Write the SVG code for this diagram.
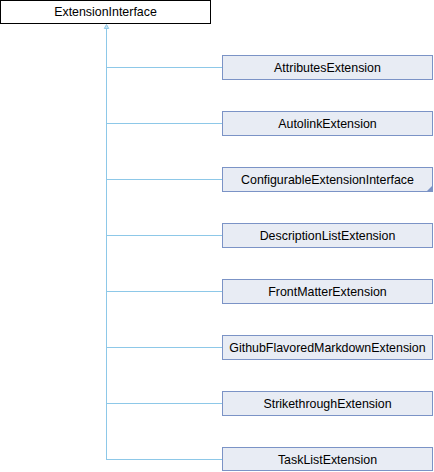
<svg xmlns="http://www.w3.org/2000/svg" width="434" height="472" viewBox="0 0 434 472">
<defs>
<style>
.n rect{fill:#E8ECF4;stroke:#7B93C6;stroke-width:1}
.n rect.top{fill:#FFFFFF;stroke:#000000}
.n text{font-family:"Liberation Sans",Arial,sans-serif;font-size:12.4px;fill:#000;text-anchor:middle}
.e{stroke:#8DC8E8;stroke-width:1;fill:none}
</style>
</defs>
<rect width="434" height="472" fill="#FFFFFF"/>
<g id="connectors">
<path class="e" d="M106.5,28 V460"/>
<path class="e" d="M106.5,67.5 H222 M106.5,123.5 H222 M106.5,179.5 H222 M106.5,235.5 H222 M106.5,291.5 H222 M106.5,347.5 H222 M106.5,403.5 H222 M106.5,459.5 H222"/>
<polygon points="106.5,24.5 104.3,28.5 108.7,28.5" fill="#C9E3F2" stroke="#8DC8E8"/>
</g>
<g id="ExtensionInterface" class="n"><rect class="top" x="0.5" y="0.5" width="210" height="23"/><text x="105.5" y="16">ExtensionInterface</text></g>
<g id="AttributesExtension" class="n"><rect x="222.5" y="55.5" width="210" height="24"/><text x="327.5" y="72">AttributesExtension</text></g>
<g id="AutolinkExtension" class="n"><rect x="222.5" y="111.5" width="210" height="24"/><text x="327.5" y="128">AutolinkExtension</text></g>
<g id="ConfigurableExtensionInterface" class="n"><rect x="222.5" y="167.5" width="210" height="24"/><text x="327.5" y="184">ConfigurableExtensionInterface</text><polygon points="432,186 432,191 427,191" fill="#7B93C6"/></g>
<g id="DescriptionListExtension" class="n"><rect x="222.5" y="223.5" width="210" height="24"/><text x="327.5" y="240">DescriptionListExtension</text></g>
<g id="FrontMatterExtension" class="n"><rect x="222.5" y="279.5" width="210" height="24"/><text x="327.5" y="296">FrontMatterExtension</text></g>
<g id="GithubFlavoredMarkdownExtension" class="n"><rect x="222.5" y="335.5" width="210" height="24"/><text x="327.5" y="352">GithubFlavoredMarkdownExtension</text></g>
<g id="StrikethroughExtension" class="n"><rect x="222.5" y="391.5" width="210" height="24"/><text x="327.5" y="408">StrikethroughExtension</text></g>
<g id="TaskListExtension" class="n"><rect x="222.5" y="447.5" width="210" height="23"/><text x="327.5" y="464">TaskListExtension</text></g>
</svg>
